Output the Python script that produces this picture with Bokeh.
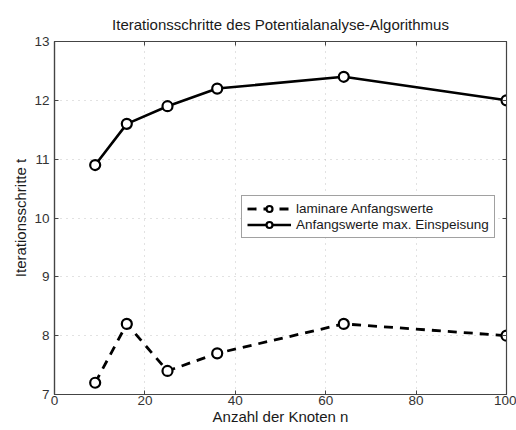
from bokeh.plotting import figure
from bokeh.models import LinearAxis, Range1d, Legend, LegendItem, FixedTicker
from bokeh.embed import file_html
from bokeh.resources import INLINE

# Number of nodes
knoten = [9, 16, 25, 36, 64, 100]
# Iteration steps for both initialisations
laminar = [7.2, 8.2, 7.4, 7.7, 8.2, 8.0]
max_einspeisung = [10.9, 11.6, 11.9, 12.2, 12.4, 12.0]

x_ticks = [0, 20, 40, 60, 80, 100]
y_ticks = [7, 8, 9, 10, 11, 12, 13]

FONT = "Liberation Sans"

p = figure(width=516, height=430, output_backend="svg", toolbar_location=None,
           x_range=Range1d(0, 100), y_range=Range1d(7, 13),
           min_border_left=54, min_border_right=10, min_border_top=41, min_border_bottom=36)

p.title.text = "Iterationsschritte des Potentialanalyse-Algorithmus"
p.title.align = "center"
p.title.text_font = FONT
p.title.text_font_size = "15px"
p.title.text_font_style = "normal"
p.title.text_color = "#1a1a1a"
p.title.standoff = 18

p.outline_line_color = "#444444"
p.outline_line_width = 1.2

for g in (p.xgrid[0], p.ygrid[0]):
    g.grid_line_color = "#c4c4c4"
    g.grid_line_dash = "1 5"
    g.grid_line_width = 1
p.xgrid[0].ticker = FixedTicker(ticks=x_ticks)
p.ygrid[0].ticker = FixedTicker(ticks=y_ticks)

xa = p.xaxis[0]
ya = p.yaxis[0]
xa.ticker = FixedTicker(ticks=x_ticks)
ya.ticker = FixedTicker(ticks=y_ticks)
xa.axis_label = "Anzahl der Knoten n"
ya.axis_label = "Iterationsschritte t"
for ax in (xa, ya):
    ax.axis_line_color = "#444444"
    ax.axis_line_width = 1.2
    ax.major_tick_in = 4
    ax.major_tick_out = 0
    ax.minor_tick_line_color = None
    ax.major_tick_line_color = "#444444"
    ax.major_label_text_font = FONT
    ax.major_label_text_font_size = "13.5px"
    ax.major_label_text_color = "#333333"
    ax.axis_label_text_font = FONT
    ax.axis_label_text_font_size = "15px"
    ax.axis_label_text_font_style = "normal"
    ax.axis_label_text_color = "#1a1a1a"
xa.major_label_standoff = 1
xa.axis_label_standoff = 0
ya.major_label_standoff = 5
ya.axis_label_standoff = 2

# Mirrored tick marks on top and right, without labels
for loc, ticks in (("above", x_ticks), ("right", y_ticks)):
    ax = LinearAxis(ticker=FixedTicker(ticks=ticks))
    ax.major_label_overrides = {t: "" for t in ticks}
    ax.major_label_standoff = 0
    ax.major_tick_in = 4
    ax.major_tick_out = 0
    ax.minor_tick_line_color = None
    ax.axis_line_color = "#444444"
    ax.major_tick_line_color = "#444444"
    p.add_layout(ax, loc)

l1 = p.line(knoten, laminar, line_color="black", line_width=2.8, line_dash="9 7")
s1 = p.scatter(knoten, laminar, size=10, fill_color="white", line_color="black", line_width=2.2)
l2 = p.line(knoten, max_einspeisung, line_color="black", line_width=2.6)
s2 = p.scatter(knoten, max_einspeisung, size=10, fill_color="white", line_color="black", line_width=2.2)

legend = Legend(items=[
    LegendItem(label="laminare Anfangswerte", renderers=[l1, s1]),
    LegendItem(label="Anfangswerte max. Einspeisung", renderers=[l2, s2]),
], location=(187, 156))
legend.label_text_font = FONT
legend.label_text_font_size = "13.5px"
legend.label_text_color = "#1a1a1a"
legend.glyph_width = 44
legend.glyph_height = 15
legend.label_height = 15
legend.label_standoff = 5
legend.spacing = 1
legend.padding = 5
legend.margin = 0
legend.border_line_color = "#444444"
legend.border_line_width = 1
legend.background_fill_alpha = 1
p.add_layout(legend, "center")

open("out.html", "w").write(file_html(p, INLINE))
